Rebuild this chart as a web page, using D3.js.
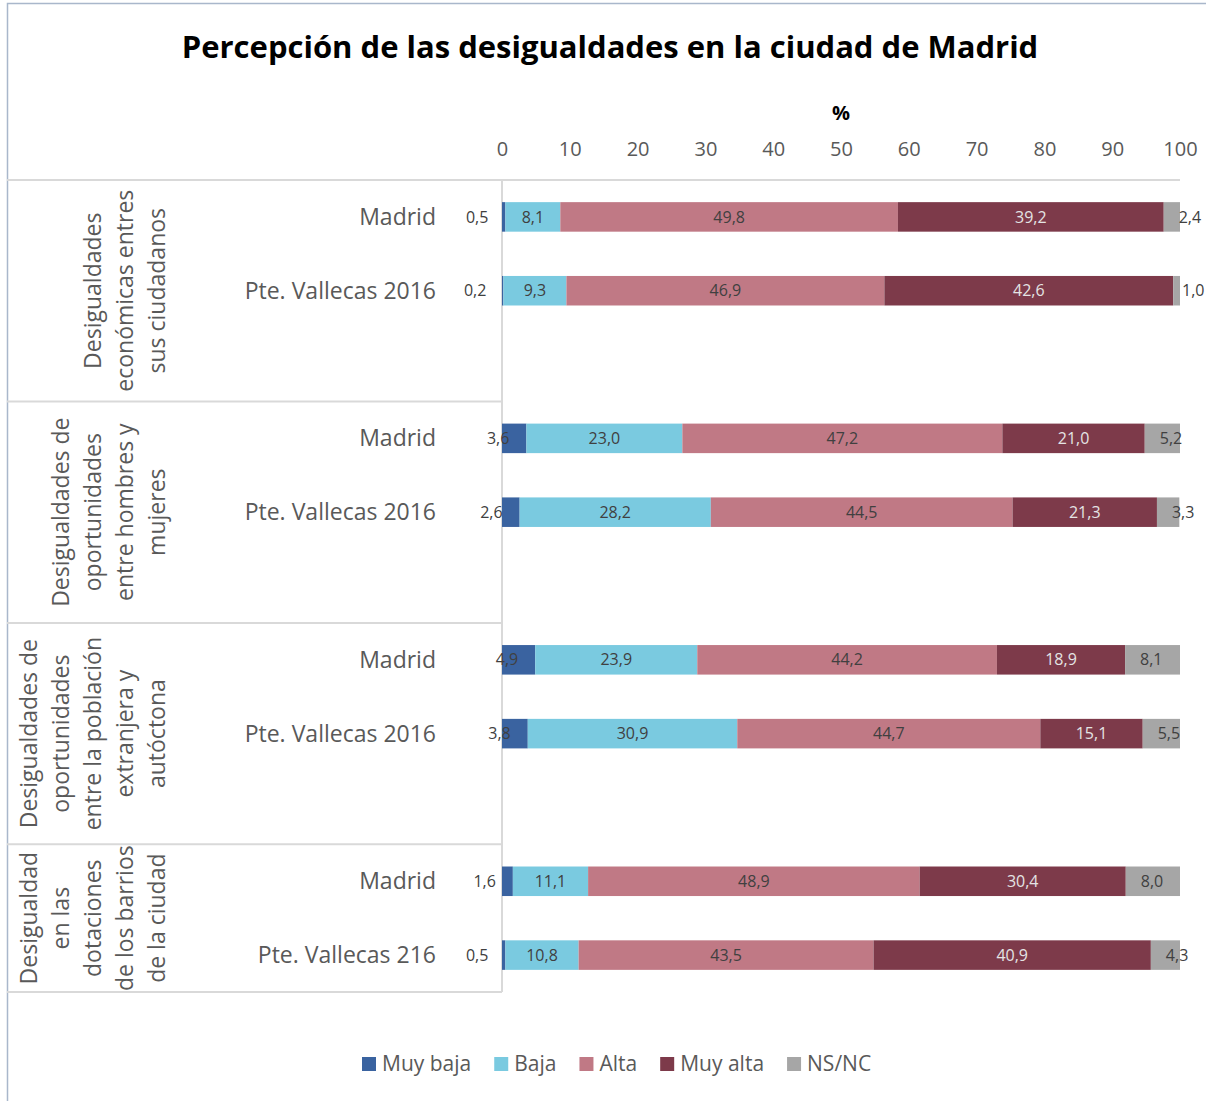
<!DOCTYPE html>
<html>
<head>
<meta charset="utf-8">
<script src="https://cdn.jsdelivr.net/npm/d3@7"></script>
<style>
  body { margin: 0; background: #fff; }
  svg { display: block; font-family: "Open Sans", sans-serif; }
</style>
</head>
<body>
<svg width="1206" height="1101"></svg>
<script>
// data
var series = ["Muy baja", "Baja", "Alta", "Muy alta", "NS/NC"];
var colors = ["#3a63a0", "#7acae0", "#c07985", "#7d3a4a", "#a6a6a6"];
var groups = [
  ["Desigualdades", "económicas entres", "sus ciudadanos"],
  ["Desigualdades de", "oportunidades", "entre hombres y", "mujeres"],
  ["Desigualdades de", "oportunidades", "entre la población", "extranjera y", "autóctona"],
  ["Desigualdad", "en las", "dotaciones", "de los barrios", "de la ciudad"]
];
var rowLabels = [
  ["Madrid", "Pte. Vallecas 2016"],
  ["Madrid", "Pte. Vallecas 2016"],
  ["Madrid", "Pte. Vallecas 2016"],
  ["Madrid", "Pte. Vallecas 216"]
];
var values = [
  [[0.5, 8.1, 49.8, 39.2, 2.4], [0.2, 9.3, 46.9, 42.6, 1.0]],
  [[3.6, 23.0, 47.2, 21.0, 5.2], [2.6, 28.2, 44.5, 21.3, 3.3]],
  [[4.9, 23.9, 44.2, 18.9, 8.1], [3.8, 30.9, 44.7, 15.1, 5.5]],
  [[1.6, 11.1, 48.9, 30.4, 8.0], [0.5, 10.8, 43.5, 40.9, 4.3]]
];
var ticks = [0, 10, 20, 30, 40, 50, 60, 70, 80, 90, 100];

var svg = d3.select("svg");
var fmt = function(v) { return d3.format(".1f")(v).replace(".", ","); };

// rows: two bars per group plus an empty slot (not after the last group)
var rows = [];
groups.forEach(function(g, gi) {
  rowLabels[gi].forEach(function(l, ri) {
    rows.push({key: gi + "-" + ri, g: gi, label: l, vals: values[gi][ri]});
  });
  if (gi < groups.length - 1) rows.push({key: gi + "-blank", g: gi, blank: true});
});

var x = d3.scaleLinear().domain([0, 100]).range([502, 1180]);
var y = d3.scaleBand()
  .domain(rows.map(function(d) { return d.key; }))
  .range([180, 992])
  .paddingInner(0.6)
  .paddingOuter(0.3);
var color = d3.scaleOrdinal().domain(series).range(colors);
var slotTop = function(k) { return y(k) - (y.step() - y.bandwidth()) / 2; };

// frame
svg.append("path")
  .attr("d", "M7.5,1101V3.5H1206")
  .attr("fill", "none")
  .attr("stroke", "#a9b7cb")
  .attr("stroke-width", 1.5);

svg.append("text")
  .attr("x", 610).attr("y", 58)
  .attr("text-anchor", "middle")
  .attr("font-size", 31).attr("font-weight", "bold")
  .attr("fill", "#000")
  .text("Percepción de las desigualdades en la ciudad de Madrid");

svg.append("text")
  .attr("x", x(50)).attr("y", 120)
  .attr("text-anchor", "middle")
  .attr("font-size", 20).attr("font-weight", "bold")
  .text("%");

var axis = svg.append("g")
  .attr("transform", "translate(0,156)")
  .call(d3.axisTop(x).tickValues(ticks).tickSize(0).tickPadding(0));
axis.select(".domain").remove();
axis.selectAll("text")
  .attr("font-family", "'Open Sans', sans-serif")
  .attr("font-size", 20)
  .attr("fill", "#595959");

// table lines
var grid = svg.append("g").attr("stroke", "#d9d9d9").attr("stroke-width", 2);
grid.append("line").attr("x1", 7).attr("x2", x(100)).attr("y1", 180).attr("y2", 180);
grid.append("line").attr("x1", x(0)).attr("x2", x(0)).attr("y1", 180).attr("y2", 992);
var bounds = rows.filter(function(d) { return d.blank; }).map(function(d) { return slotTop(d.key) + y.step(); });
bounds.push(992);
grid.selectAll(".sep").data(bounds).enter().append("line")
  .attr("x1", 7).attr("x2", x(0))
  .attr("y1", function(d) { return d; }).attr("y2", function(d) { return d; });

// group labels, rotated
groups.forEach(function(lines, gi) {
  var gr = rows.filter(function(d) { return d.g === gi; });
  var top = slotTop(gr[0].key);
  var bottom = gi < groups.length - 1 ? slotTop(gr[gr.length - 1].key) + y.step() : 992;
  var cy = (top + bottom) / 2;
  var n = lines.length;
  svg.append("g").selectAll("text").data(lines).enter().append("text")
    .attr("transform", function(d, i) {
      return "translate(" + (157 - (n - 1 - i) * 32) + "," + cy + ") rotate(-90)";
    })
    .attr("text-anchor", "middle")
    .attr("dy", "0.35em")
    .attr("font-size", 23)
    .attr("fill", "#595959")
    .text(function(d) { return d; });
});

// bars
var bars = rows.filter(function(d) { return !d.blank; });
bars.forEach(function(r) {
  var acc = 0;
  r.segs = r.vals.map(function(v, i) {
    var s = {x0: acc, x1: acc + v, v: v, i: i};
    acc += v;
    return s;
  });
});

svg.append("g").selectAll("text").data(bars).enter().append("text")
  .attr("x", 436)
  .attr("y", function(d) { return y(d.key) + y.bandwidth() / 2; })
  .attr("dy", "0.35em")
  .attr("text-anchor", "end")
  .attr("font-size", 23)
  .attr("fill", "#595959")
  .text(function(d) { return d.label; });

var rowG = svg.append("g").selectAll("g").data(bars).enter().append("g")
  .attr("transform", function(d) { return "translate(0," + y(d.key) + ")"; });

rowG.selectAll("rect").data(function(d) { return d.segs; }).enter().append("rect")
  .attr("x", function(d) { return x(d.x0); })
  .attr("width", function(d) { return x(d.x1) - x(d.x0); })
  .attr("height", y.bandwidth())
  .attr("fill", function(d) { return color(series[d.i]); });

rowG.selectAll("text").data(function(d) { return d.segs; }).enter().append("text")
  .attr("y", y.bandwidth() / 2)
  .attr("dy", "0.35em")
  .attr("font-size", 16)
  .attr("fill", function(d) { return d.i === 3 ? "#e4e4e4" : "#404040"; })
  .attr("text-anchor", function(d) {
    return d.i === 0 ? "end" : d.i === 4 ? "start" : "middle";
  })
  .attr("x", function(d) {
    if (d.i === 0) return x(d.x1) - 17;
    if (d.i === 4) return Math.min(x(d.x0) + 15, x(100) + 2);
    return (x(d.x0) + x(d.x1)) / 2;
  })
  .text(function(d) { return fmt(d.v); });

// legend
var legend = svg.append("g").attr("transform", "translate(362,1064)");
var lx = 0;
series.forEach(function(s, i) {
  var item = legend.append("g").attr("transform", "translate(" + lx + ",0)");
  item.append("rect")
    .attr("x", 0).attr("y", -7).attr("width", 14).attr("height", 14)
    .attr("fill", colors[i]);
  var t = item.append("text")
    .attr("x", 20).attr("dy", "0.35em")
    .attr("font-size", 21)
    .attr("fill", "#595959")
    .text(s);
  lx += 20 + t.node().getComputedTextLength() + 23;
});
</script>
</body>
</html>
